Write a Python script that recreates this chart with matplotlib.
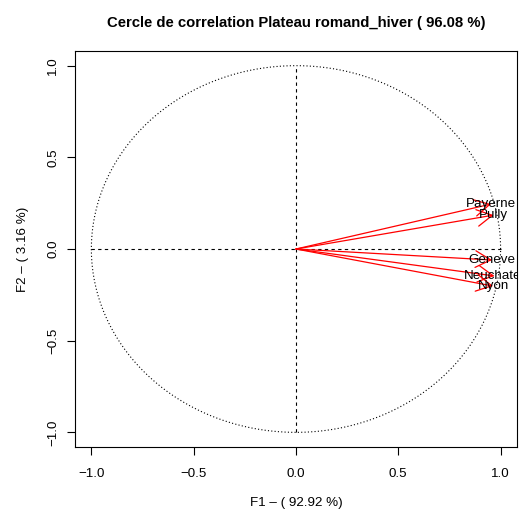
import numpy as np
import matplotlib
matplotlib.use("Agg")
import matplotlib.pyplot as plt

plt.rcParams['font.family'] = ['Liberation Sans', 'DejaVu Sans']

stations = ["Payerne", "Pully", "Geneve", "Neuchatel", "Nyon"]
f1 = [0.953, 0.966, 0.958, 0.970, 0.963]
f2 = [0.245, 0.185, -0.060, -0.147, -0.202]

title = "Cercle de correlation Plateau romand_hiver ( 96.08 %)"
xlabel = "F1 \u2013 ( 92.92 %)"
ylabel = "F2 \u2013 ( 3.16 %)"
ticks = [-1.0, -0.5, 0.0, 0.5, 1.0]

fig = plt.figure(figsize=(5.2, 5.11), dpi=100)
ax = fig.add_axes([0.1442, 0.1252, 0.85, 0.775])

# cercle unite
t = np.linspace(0, 2 * np.pi, 400)
ax.plot(np.cos(t), np.sin(t), color='black', lw=0.8, ls=(0, (1, 2)))
ax.plot([-1, 1], [0, 0], color='black', lw=0.8, ls=(0, (3, 3)))
ax.plot([0, 0], [-1, 1], color='black', lw=0.8, ls=(0, (3, 3)))

for name, x, y in zip(stations, f1, f2):
    ax.annotate("", xy=(x, y), xytext=(0, 0),
                arrowprops=dict(arrowstyle='->,head_length=1.1,head_width=0.6',
                                color='red', lw=0.9, shrinkA=0, shrinkB=0))
    ax.text(x, y, name, ha='center', va='center', fontsize=9.6, clip_on=True)

ax.set_xlim(-1.08, 1.08)
ax.set_ylim(-1.08, 1.08)
ax.set_xticks(ticks)
ax.set_yticks(ticks)
ax.set_xticklabels([f"{v:.1f}".replace("-", "\u2212") for v in ticks])
ax.set_yticklabels([f"{v:.1f}".replace("-", "\u2212") for v in ticks],
                   rotation=90, va='center')
ax.tick_params(direction='out', length=5.8, labelsize=9.6)
ax.tick_params(axis='x', pad=9)
ax.tick_params(axis='y', pad=5.5)
for s in ax.spines.values():
    s.set_linewidth(0.8)

ax.set_xlabel(xlabel, fontsize=9.6)
ax.set_ylabel(ylabel, fontsize=9.6)
ax.xaxis.set_label_coords(0.5, -0.126)
ax.yaxis.set_label_coords(-0.105, 0.5)
ax.set_title(title, fontsize=10.7, fontweight='bold', pad=17.6)

fig.savefig("out.png", dpi=100)
